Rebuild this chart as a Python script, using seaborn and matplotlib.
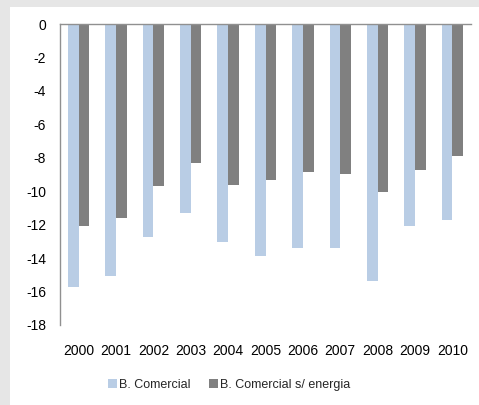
import matplotlib
matplotlib.use("Agg")
import matplotlib.pyplot as plt
import seaborn as sns
import pandas as pd

years = ["2000", "2001", "2002", "2003", "2004", "2005", "2006", "2007", "2008", "2009", "2010"]
comercial = [-15.73, -15.09, -12.76, -11.30, -13.02, -13.86, -13.42, -13.42, -15.39, -12.06, -11.75]
comercial_sem_energia = [-12.06, -11.60, -9.67, -8.30, -9.61, -9.31, -8.85, -8.99, -10.05, -8.75, -7.90]
series_names = ["B. Comercial", "B. Comercial s/ energia"]
y_ticks = [0, -2, -4, -6, -8, -10, -12, -14, -16, -18]

df = pd.DataFrame({
    "ano": years * 2,
    "valor": comercial + comercial_sem_energia,
    "serie": [series_names[0]] * len(years) + [series_names[1]] * len(years),
})

sns.set_theme(style="white")
plt.rcParams["font.family"] = ["Liberation Sans", "DejaVu Sans"]

fig = plt.figure(figsize=(4.79, 4.05), dpi=100, facecolor="#e6e6e6")

# white chart panel over the grey frame
bg = fig.add_axes([10 / 479, 0, 1 - 10 / 479, 1 - 7 / 405], zorder=0)
bg.set_facecolor("white")
bg.set_xticks([])
bg.set_yticks([])
for s in bg.spines.values():
    s.set_visible(False)

ax = fig.add_axes([60 / 479, 1 - 325 / 405, 411 / 479, 301 / 405], zorder=1)
ax.set_facecolor("none")

sns.barplot(data=df, x="ano", y="valor", hue="serie", ax=ax,
            palette=["#b9cde5", "#808080"], width=0.57, saturation=1,
            edgecolor="none", legend=True)

ax.set_ylim(-18, 0)
ax.set_yticks(y_ticks)
ax.set_yticklabels([str(t) for t in y_ticks])
ax.set_xlim(-0.5, len(years) - 0.5)
ax.set_xlabel("")
ax.set_ylabel("")
ax.tick_params(axis="both", length=0, labelsize=10, colors="#000000")
ax.tick_params(axis="x", pad=14)
ax.tick_params(axis="y", pad=10)
for s in ["right", "bottom"]:
    ax.spines[s].set_visible(False)
ax.spines["left"].set_color("#909090")
ax.spines["top"].set_color("#909090")
ax.spines["left"].set_linewidth(1)
ax.spines["top"].set_linewidth(1)

handles, labels = ax.get_legend_handles_labels()
ax.legend(handles, labels, loc="center", bbox_to_anchor=(229 / 479, 1 - 385 / 405),
          bbox_transform=fig.transFigure, ncol=2, frameon=False, fontsize=9,
          handlelength=0.75, handleheight=0.75, handletextpad=0.15, columnspacing=1.5)

fig.savefig("out.png", dpi=100, facecolor=fig.get_facecolor())
